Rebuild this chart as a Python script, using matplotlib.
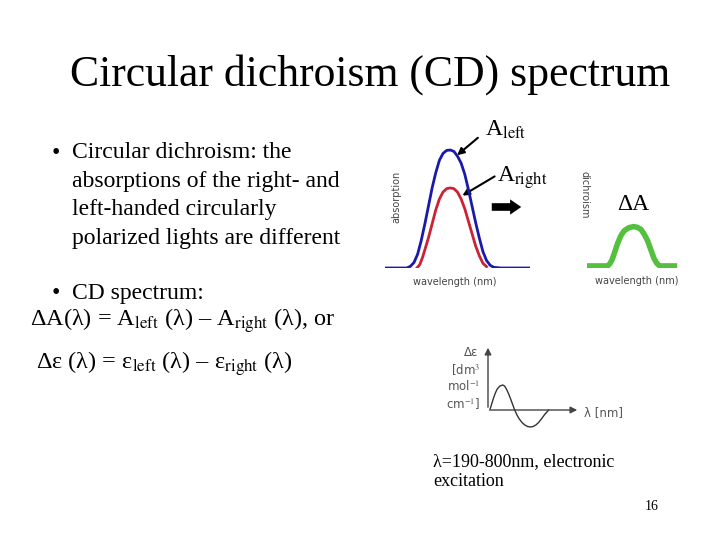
import matplotlib
matplotlib.use("Agg")
import matplotlib.pyplot as plt

plt.rcParams["mathtext.fontset"] = "stix"
SERIF = "Liberation Serif"

# absorption curves (wavelength in arbitrary 0-100 units)
abs_x_left = [0, 15, 17.5, 20, 22.5, 25, 27.5, 30, 32.5, 35, 37.5, 40, 42.5, 45, 47.5, 50,
              52.5, 55, 57.5, 60, 62.5, 65, 67.5, 70, 72.5, 75, 80, 100]
abs_left = [0, 0, 0.012, 0.04, 0.1, 0.2, 0.32, 0.45, 0.58, 0.69, 0.78, 0.83, 0.852, 0.855,
            0.845, 0.81, 0.76, 0.68, 0.57, 0.45, 0.33, 0.22, 0.12, 0.055, 0.02, 0.005, 0, 0]
abs_x_right = [22, 24, 26, 28, 30, 32.5, 35, 37.5, 40, 42.5, 45, 47.5, 50, 52.5, 55, 57.5,
               60, 62.5, 65, 67.5, 70]
abs_right = [0, 0.025, 0.08, 0.15, 0.22, 0.32, 0.42, 0.5, 0.55, 0.575, 0.58, 0.575, 0.55,
             0.5, 0.43, 0.34, 0.25, 0.16, 0.09, 0.035, 0.01]

# dichroism (difference) curve
cd_x = [0, 22, 24.5, 27, 30, 33, 36.5, 40, 45, 50, 54, 58, 61.5, 65, 68.5, 72, 75, 78, 97]
cd_y = [0.015, 0.015, 0.03, 0.06, 0.12, 0.18, 0.235, 0.27, 0.292, 0.3, 0.295, 0.28, 0.245,
        0.2, 0.135, 0.07, 0.035, 0.015, 0.015]

# CD spectrum sketch (delta epsilon vs lambda)
de_x = [2, 4, 6, 8, 10, 13, 16, 18, 20, 22.5, 25, 27, 29, 31.5, 34, 37, 40, 43, 46, 49, 52,
        55, 58, 60, 62, 64, 66]
de_y = [0, 6, 12, 17, 21, 24, 25, 24, 21, 16, 10, 5, 0, -5, -9, -12.5, -15, -16.5, -17,
        -16.5, -15, -12.5, -9, -6.5, -4, -2, 0]

W, H = 720, 540
fig = plt.figure(figsize=(7.2, 5.4), dpi=100)


def px_axes(x0, y0, x1, y1):
    # axes from pixel box (top-left origin)
    return fig.add_axes([x0 / W, 1 - y1 / H, (x1 - x0) / W, (y1 - y0) / H])


bg = fig.add_axes([0, 0, 1, 1])
bg.set_xlim(0, W)
bg.set_ylim(H, 0)
bg.axis("off")

# title
bg.text(370, 75, "Circular dichroism (CD) spectrum", family=SERIF, fontsize=31.5,
        ha="center", va="center")

# bullets
FS = 17
bullet_lines = ["Circular dichroism: the", "absorptions of the right- and",
                "left-handed circularly", "polarized lights are different"]
bg.text(52, 153, "•", family=SERIF, fontsize=FS, va="center")
for i, s in enumerate(bullet_lines):
    bg.text(72, 153 + 28.5 * i, s, family=SERIF, fontsize=FS, va="center")
bg.text(52, 293, "•", family=SERIF, fontsize=FS, va="center")
bg.text(72, 293, "CD spectrum:", family=SERIF, fontsize=FS, va="center")
bg.text(30, 321, r"ΔA(λ) = A$_{\rm left}$ (λ) – A$_{\rm right}$ (λ), or",
        family=SERIF, fontsize=17.5, va="center")
bg.text(36, 364, r"Δε (λ) = ε$_{\rm left}$ (λ) – ε$_{\rm right}$ (λ)",
        family=SERIF, fontsize=17.5, va="center")

# absorption plot
ax1 = px_axes(385, 130, 530, 268)
ax1.plot(abs_x_left, abs_left, color="#1a1aaa", lw=2)
ax1.plot(abs_x_right, abs_right, color="#cc2233", lw=2)
ax1.set_xlim(0, 100)
ax1.set_ylim(0, 1)
ax1.axis("off")
bg.text(396, 197, "absorption", fontsize=7, rotation=90, color="#444444",
        ha="center", va="center")
bg.text(455, 282, "wavelength (nm)", fontsize=7, color="#444444", ha="center", va="center")

# labels with arrows
bg.text(485, 130, r"A$_{\rm left}$", family=SERIF, fontsize=17, va="center")
bg.text(497, 178, r"A$_{\rm right}$", family=SERIF, fontsize=17, va="center")
bg.annotate("", xy=(455, 157), xytext=(480, 136),
            arrowprops=dict(arrowstyle="-|>", color="black", lw=1.5))
bg.annotate("", xy=(460, 197), xytext=(497, 175),
            arrowprops=dict(arrowstyle="-|>", color="black", lw=1.5))
bg.annotate("", xy=(524, 207), xytext=(489, 207),
            arrowprops=dict(arrowstyle="simple,head_width=1.1,head_length=0.8,tail_width=0.55",
                            color="black", lw=0))

# dichroism plot
ax2 = px_axes(587, 130, 680, 268)
ax2.plot(cd_x, cd_y, color="#55c040", lw=4, solid_capstyle="butt")
ax2.set_xlim(0, 100)
ax2.set_ylim(0, 1)
ax2.axis("off")
bg.text(584, 195, "dichroism", fontsize=7, rotation=-90, color="#444444",
        ha="center", va="center")
bg.text(637, 281, "wavelength (nm)", fontsize=7, color="#444444", ha="center", va="center")
bg.text(633, 205, "ΔA", family=SERIF, fontsize=17, ha="center", va="center")

# CD spectrum sketch
ax3 = px_axes(488, 345, 580, 440)
ax3.plot(de_x, de_y, color="#333333", lw=1)
ax3.set_xlim(0, 100)
ax3.set_ylim(-30, 65)
ax3.axis("off")
ax3.annotate("", xy=(100, 0), xytext=(0, 0),
             arrowprops=dict(arrowstyle="-|>", color="#444444", lw=1))
ax3.annotate("", xy=(0, 65), xytext=(0, 0),
             arrowprops=dict(arrowstyle="-|>", color="#444444", lw=1))
for i, s in enumerate(["Δε", "[dm$^3$", "mol$^{-1}$", "cm$^{-1}$]"]):
    bg.text(478 if i == 0 else 480, 353 + 17 * i, s, fontsize=8.5, color="#555555",
            ha="right", va="center")
bg.text(584, 413, "λ [nm]", fontsize=8.5, color="#555555", va="center")

bg.text(433, 462, "λ=190-800nm, electronic", family=SERIF, fontsize=13, va="center")
bg.text(433, 482, "excitation", family=SERIF, fontsize=13, va="center")
bg.text(652, 506, "16", family=SERIF, fontsize=10, ha="center", va="center")

fig.savefig("out.png", dpi=100)
